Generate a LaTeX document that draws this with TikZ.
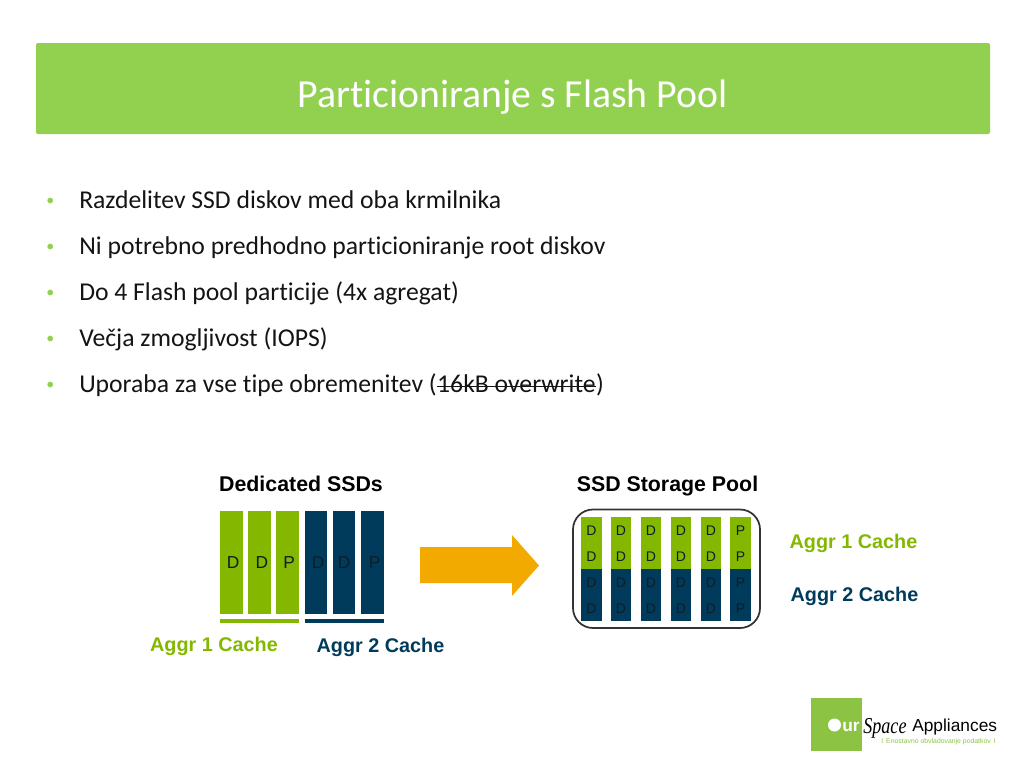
\documentclass[tikz,border=0pt]{standalone}
\usepackage{fontspec}
\setmainfont[Ligatures=NoCommon]{Carlito}
\newfontfamily\arialfont{Liberation Sans}
\newfontfamily\logoserif{Liberation Serif}
\definecolor{headgreen}{HTML}{92D050}
\definecolor{ssdgreen}{HTML}{84B800}
\definecolor{ssdblue}{HTML}{003B5C}
\definecolor{arrowgold}{HTML}{F2A900}
\definecolor{logogreen}{HTML}{8CC342}
\definecolor{bartext}{HTML}{0C1E28}
\definecolor{bodytext}{HTML}{141414}
\tikzset{
  bullet/.style={anchor=base west,inner sep=0pt,font=\fontsize{19.25}{22}\selectfont,text=bodytext},
  dot/.style={anchor=base west,inner sep=0pt,font=\fontsize{12}{14}\selectfont,text=headgreen},
  heading/.style={anchor=base,inner sep=0pt,font=\arialfont\bfseries\fontsize{16}{18}\selectfont},
  cachelabel/.style={anchor=base,inner sep=0pt,font=\arialfont\bfseries\fontsize{14.85}{18}\selectfont},
  tallbar/.style={anchor=north west,inner sep=0pt,minimum width=17pt,minimum height=76.7pt,text=bartext,font=\arialfont\fontsize{13}{14}\selectfont},
  poolbar/.style={anchor=north west,inner sep=0pt,minimum width=15.4pt,minimum height=39pt,text=bartext,align=center,font=\arialfont\fontsize{10.5}{19.5}\selectfont},
}
\begin{document}
\begin{tikzpicture}[x=0.75pt,y=-0.75pt]
\useasboundingbox (0,0) rectangle (1024,768);
% title band
\fill[headgreen,rounded corners=1.5pt] (36,43) rectangle (990,134);
\node[inner sep=0pt,text=white,font=\fontsize{29.8}{34}\selectfont] (title) at (512.5,97) {Particioniranje s Flash Pool};
% bullets
\node[dot] (dot1) at (46,205) {•};
\node[dot] (dot2) at (46,251) {•};
\node[dot] (dot3) at (46,297) {•};
\node[dot] (dot4) at (46,343) {•};
\node[dot] (dot5) at (46,389) {•};
\node[bullet] (line1) at (79,208) {Razdelitev SSD diskov med oba krmilnika};
\node[bullet] (line2) at (79,254) {Ni potrebno predhodno particioniranje root diskov};
\node[bullet] (line3) at (79,300) {Do 4 Flash pool particije (4x agregat)};
\node[bullet] (line4) at (79,346) {Večja zmogljivost (IOPS)};
\node[bullet] (line5) at (79,392) {Uporaba za vse tipe obremenitev (};
\node[bullet] (struck) at (line5.base east) {16kB overwrite};
\node[bullet] (close) at (struck.base east) {)};
\draw[bodytext,line width=0.8pt] ([yshift=4.2pt]struck.base west) -- ([yshift=4.2pt]struck.base east);
% dedicated ssds
\node[heading] (dedicated) at (301,491) {Dedicated SSDs};
\node[tallbar,fill=ssdgreen] (d1) at (220,511) {\hspace*{2.2pt}D};
\node[tallbar,fill=ssdgreen] (d2) at (248,511) {\hspace*{3.3pt}D};
\node[tallbar,fill=ssdgreen] (d3) at (276,511) {\hspace*{2.2pt}P};
\node[tallbar,fill=ssdblue] (d4) at (304.5,511) {\hspace*{3pt}D};
\node[tallbar,fill=ssdblue] (d5) at (332.5,511) {D};
\node[tallbar,fill=ssdblue] (d6) at (361,511) {\hspace*{3pt}P};
\fill[ssdgreen] (220,618.5) rectangle (299,623);
\fill[ssdblue] (304.5,618.5) rectangle (384,623);
\node[cachelabel,text=ssdgreen] (aggr1) at (214,651) {Aggr 1 Cache};
\node[cachelabel,text=ssdblue] (aggr2) at (380.5,652) {Aggr 2 Cache};
% arrow
\fill[arrowgold] (420,547) -- (512,547) -- (512,535) -- (539,565.5) -- (512,596) -- (512,583) -- (420,583) -- cycle;
% storage pool
\node[heading] (pool) at (667.5,491) {SSD Storage Pool};
\node[poolbar,fill=ssdgreen] (g1) at (581,517) {D\\D};
\node[poolbar,fill=ssdgreen] (g2) at (610.5,517) {D\\D};
\node[poolbar,fill=ssdgreen] (g3) at (640.5,517) {D\\D};
\node[poolbar,fill=ssdgreen] (g4) at (670.5,517) {D\\D};
\node[poolbar,fill=ssdgreen] (g5) at (700.5,517) {D\\D};
\node[poolbar,fill=ssdgreen] (g6) at (730,517) {P\\P};
\node[poolbar,fill=ssdblue] (b1) at (581,569) {D\\D};
\node[poolbar,fill=ssdblue] (b2) at (610.5,569) {D\\D};
\node[poolbar,fill=ssdblue] (b3) at (640.5,569) {D\\D};
\node[poolbar,fill=ssdblue] (b4) at (670.5,569) {D\\D};
\node[poolbar,fill=ssdblue] (b5) at (700.5,569) {D\\D};
\node[poolbar,fill=ssdblue] (b6) at (730,569) {P\\P};
\draw[line width=1.3pt,draw=black!80,rounded corners=15pt] (573,509.5) rectangle (760,628);
\node[cachelabel,text=ssdgreen] (aggr1b) at (853.5,548) {Aggr 1 Cache};
\node[cachelabel,text=ssdblue] (aggr2b) at (854.5,601) {Aggr 2 Cache};
% logo
\fill[logogreen] (811,698) rectangle (862,751);
\fill[white] (834.5,725) circle [radius=6.5];
\node[anchor=base west,inner sep=0pt,text=white,font=\arialfont\bfseries\fontsize{13}{14}\selectfont] (logour) at (842,731) {ur};
\node[anchor=base west,inner sep=0pt,font=\logoserif\itshape\fontsize{17}{18}\selectfont] (logospace) at (863,733) {\scalebox{0.8}[1]{Space}};
\node[anchor=base west,inner sep=0pt,font=\arialfont\fontsize{13}{16}\selectfont] (logoname) at (912,731) {Appliances};
\node[anchor=base west,inner sep=0pt,text=logogreen,font=\arialfont\fontsize{5.15}{8}\selectfont] (logotag) at (881,743) {I\, Enostavno obvladovanje podatkov\, I};
\end{tikzpicture}
\end{document}
